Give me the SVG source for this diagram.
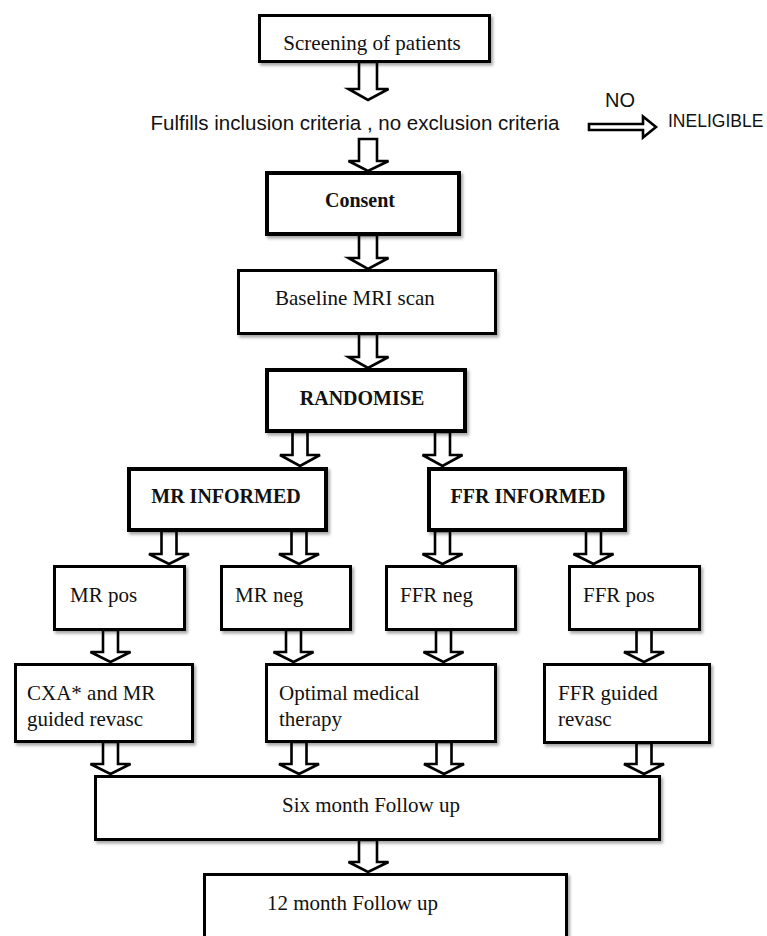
<svg xmlns="http://www.w3.org/2000/svg" width="767" height="936" viewBox="0 0 767 936">
<defs>
<filter id="sh" x="-5%" y="-5%" width="115%" height="130%">
<feDropShadow dx="2" dy="2.5" stdDeviation="1.6" flood-color="#000" flood-opacity="0.35"/>
</filter>
</defs>
<style>
.box{fill:#fff;stroke:#000;stroke-width:3;filter:url(#sh)}
.bold{stroke-width:4}
.arr{fill:#fff;stroke:#000;stroke-width:2.6;stroke-linejoin:miter}
.t{font-family:"Liberation Serif","Times New Roman",serif;font-size:21px;fill:#111}
.tb{font-family:"Liberation Serif","Times New Roman",serif;font-size:20px;font-weight:bold;fill:#111}
.s{font-family:"Liberation Sans",Arial,sans-serif;fill:#111}
</style>
<rect width="767" height="936" fill="#fff"/>
<g id="connectors">
<path class="arr" d="M359,62 V89 H348.5 L368,100 L388.5,89 H377 V62 Z"/>
<path class="arr" d="M359,139 V161 H348.5 L368,171 L388.5,161 H377 V139 Z"/>
<path class="arr" d="M359,235 V258 H348.5 L368,269 L388.5,258 H377 V235 Z"/>
<path class="arr" d="M359,334 V357 H348.5 L368,368 L388.5,357 H377 V334 Z"/>
<path class="arr" d="M292.5,432 V455 H280 L300,466 L320,455 H307.5 V432 Z"/>
<path class="arr" d="M435,432 V455 H422.5 L442.5,466 L462.5,455 H450 V432 Z"/>
<path class="arr" d="M161.5,531 V554 H149 L169,564 L189,554 H176.5 V531 Z"/>
<path class="arr" d="M291.5,531 V554 H279 L299,564 L319,554 H306.5 V531 Z"/>
<path class="arr" d="M435,531 V554 H422.5 L442.5,564 L462.5,554 H450 V531 Z"/>
<path class="arr" d="M586,531 V554 H573.5 L593.5,564 L613.5,554 H601 V531 Z"/>
<path class="arr" d="M103,630 V652 H90.5 L110.5,662 L130.5,652 H118 V630 Z"/>
<path class="arr" d="M286,630 V652 H273.5 L293.5,662 L313.5,652 H301 V630 Z"/>
<path class="arr" d="M436,630 V652 H423.5 L443.5,662 L463.5,652 H451 V630 Z"/>
<path class="arr" d="M636.5,630 V652 H624 L644,662 L664,652 H651.5 V630 Z"/>
<path class="arr" d="M103,742 V764 H90.5 L110.5,774 L130.5,764 H118 V742 Z"/>
<path class="arr" d="M291.5,742 V764 H279 L299,774 L319,764 H306.5 V742 Z"/>
<path class="arr" d="M436.5,742 V764 H424 L444,774 L464,764 H451.5 V742 Z"/>
<path class="arr" d="M636.5,743 V764 H624 L644,774 L664,764 H651.5 V743 Z"/>
<path class="arr" d="M359,840 V862 H348.5 L368,872 L388.5,862 H377 V840 Z"/>
<path class="arr" stroke-width="2.2" d="M589,124 H643 V116.5 L656,127 L643,137.5 V130 H589 Z"/>
</g>
<g id="screening">
<rect class="box" x="259.5" y="15.5" width="230" height="46"/>
<text class="t" x="372" y="50" font-size="23" text-anchor="middle">Screening of patients</text>
</g>
<g id="criteria">
<text class="s" x="355" y="130" font-size="20.5" text-anchor="middle">Fulfills inclusion criteria , no exclusion criteria</text>
</g>
<g id="ineligible">
<text class="s" x="620" y="107" font-size="20" text-anchor="middle">NO</text>
<text class="s" x="668" y="127" font-size="17.5">INELIGIBLE</text>
</g>
<g id="consent">
<rect class="box bold" x="267" y="173" width="192" height="61"/>
<text class="tb" x="360" y="207" font-size="23" text-anchor="middle">Consent</text>
</g>
<g id="baseline">
<rect class="box" x="238.5" y="270.5" width="257" height="63"/>
<text class="t" x="275" y="305" font-size="22.4">Baseline MRI scan</text>
</g>
<g id="randomise">
<rect class="box bold" x="267" y="370" width="198" height="61"/>
<text class="tb" x="362" y="405" text-anchor="middle">RANDOMISE</text>
</g>
<g id="mr_informed">
<rect class="box bold" x="129" y="469" width="197" height="61"/>
<text class="tb" x="226" y="503" text-anchor="middle">MR INFORMED</text>
</g>
<g id="ffr_informed">
<rect class="box bold" x="429" y="469" width="196" height="61"/>
<text class="tb" x="528" y="503" text-anchor="middle">FFR INFORMED</text>
</g>
<g id="mr_pos">
<rect class="box" x="54.5" y="566.5" width="130" height="63"/>
<text class="t" x="70" y="602">MR pos</text>
</g>
<g id="mr_neg">
<rect class="box" x="221.5" y="566.5" width="129" height="63"/>
<text class="t" x="235" y="602">MR neg</text>
</g>
<g id="ffr_neg">
<rect class="box" x="386.5" y="566.5" width="129" height="63"/>
<text class="t" x="400" y="602">FFR neg</text>
</g>
<g id="ffr_pos">
<rect class="box" x="569.5" y="566.5" width="130" height="63"/>
<text class="t" x="583" y="602">FFR pos</text>
</g>
<g id="cxa">
<rect class="box" x="15.5" y="664.5" width="177" height="77"/>
<text class="t" x="27" y="700">CXA* and MR</text>
<text class="t" x="27" y="726">guided revasc</text>
</g>
<g id="optimal">
<rect class="box" x="266.5" y="664.5" width="229" height="77"/>
<text class="t" x="279" y="700">Optimal medical</text>
<text class="t" x="279" y="726">therapy</text>
</g>
<g id="ffr_guided">
<rect class="box" x="544.5" y="664.5" width="165" height="78"/>
<text class="t" x="558" y="700">FFR guided</text>
<text class="t" x="558" y="726">revasc</text>
</g>
<g id="six_month">
<rect class="box" x="95.5" y="776.5" width="564" height="63"/>
<text class="t" x="282" y="812" font-size="22.7">Six month Follow up</text>
</g>
<g id="twelve_month">
<rect class="box" x="204.5" y="874.5" width="362" height="90"/>
<text class="t" x="267" y="910" font-size="22.7">12 month Follow up</text>
</g>
</svg>
